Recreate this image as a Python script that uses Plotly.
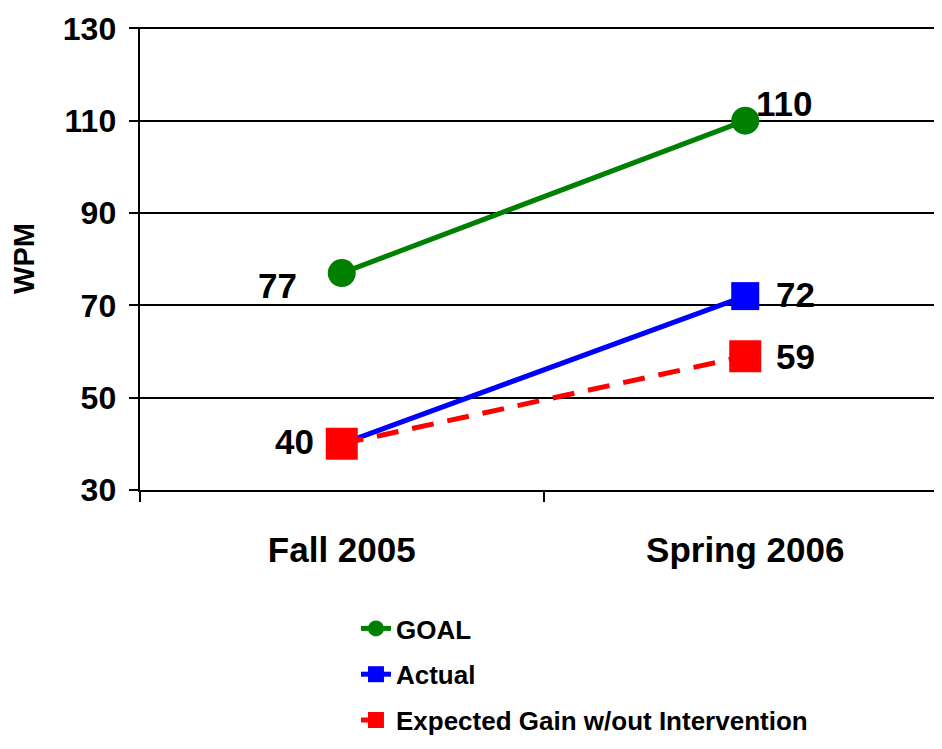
import plotly.graph_objects as go

terms = ["Fall 2005", "Spring 2006"]
goal = [77, 110]
actual = [40, 72]
expected = [40, 59]

FONT = "Liberation Sans, Arial, sans-serif"

fig = go.Figure()
fig.add_trace(go.Scatter(
    x=terms, y=goal, name="GOAL", mode="lines+markers", legendgroup="g",
    line=dict(color="#008000", width=5),
    marker=dict(symbol="circle", size=28, color="#008000"),
))
fig.add_trace(go.Scatter(
    x=terms, y=actual, name="Actual", mode="lines+markers", legendgroup="a",
    line=dict(color="#0000ff", width=5),
    marker=dict(symbol="square", size=28, color="#0000ff"),
))
fig.add_trace(go.Scatter(
    x=terms, y=expected, name="Expected Gain w/out Intervention", mode="lines+markers",
    legendgroup="e",
    line=dict(color="#ff0000", width=5, dash="22px,14px"),
    marker=dict(symbol="square", size=32, color="#ff0000"),
))

# data labels: (term index, value, xshift, yshift)
labels = [
    (0, goal[0], -64, -12),
    (1, goal[1], 39, 17),
    (0, actual[0], -47, 2),
    (1, actual[1], 50, 2),
    (1, expected[1], 50, 0),
]
for i, v, dx, dy in labels:
    fig.add_annotation(x=terms[i], y=v, text=str(v), showarrow=False,
                       xshift=dx, yshift=dy,
                       font=dict(family=FONT, size=35, color="black", weight="bold"))

fig.update_layout(
    width=926, height=733,
    margin=dict(l=132, r=0, t=19, b=251),
    paper_bgcolor="white", plot_bgcolor="white",
    font=dict(family=FONT, color="black"),
    showlegend=True,
    legend=dict(x=0.272, y=1 - 597 / 733, xref="paper", yref="container",
                xanchor="left", yanchor="top",
                font=dict(family=FONT, size=26, color="black", weight="bold"),
                tracegroupgap=9, bgcolor="rgba(0,0,0,0)"),
)
fig.update_xaxes(
    type="category", range=[-0.5, 1.4678], automargin=False,
    showline=True, linecolor="black", linewidth=2, showgrid=False,
    ticks="outside", tickson="boundaries", ticklen=10, tickwidth=2, tickcolor="black",
    ticklabelstandoff=28,
    tickfont=dict(family=FONT, size=35, color="black", weight="bold"),
)
fig.update_yaxes(
    range=[30, 130.3], dtick=20, tick0=30, automargin=False,
    showline=True, linecolor="black", linewidth=2,
    showgrid=True, gridcolor="black", gridwidth=2, zeroline=False,
    ticks="outside", ticklen=9, tickwidth=2, tickcolor="black",
    ticksuffix="\u2009", ticklabeloverflow="allow",
    tickfont=dict(family=FONT, size=32, color="black", weight="bold"),
    title=dict(text="WPM", standoff=30,
               font=dict(family=FONT, size=29, color="black", weight="bold")),
)

fig.write_html("out.html")
